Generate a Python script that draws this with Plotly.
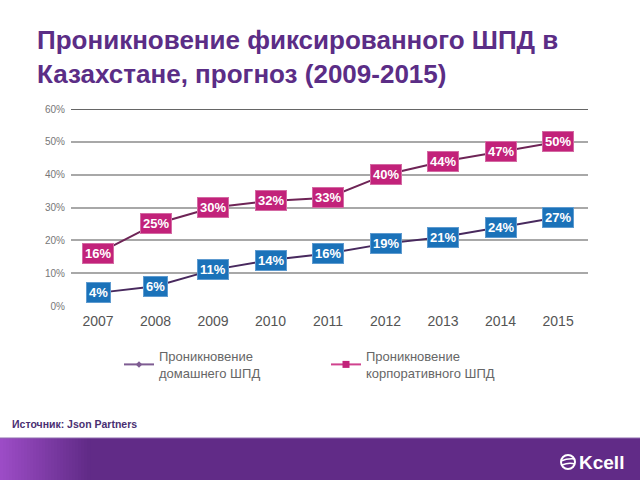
import plotly.graph_objects as go

years = [2007, 2008, 2009, 2010, 2011, 2012, 2013, 2014, 2015]
home = [4, 6, 11, 14, 16, 19, 21, 24, 27]
corp = [16, 25, 30, 32, 33, 40, 44, 47, 50]
y_ticks = [0, 10, 20, 30, 40, 50, 60]

title_text = "Проникновение фиксированного ШПД в<br>Казахстане, прогноз (2009-2015)"
name_home = "Проникновение<br>домашнего ШПД"
name_corp = "Проникновение<br>корпоративного ШПД"
source_text = "Источник: Json Partners"

W, H = 640, 480
L, R, T, B = 71, 52, 109, 174
pw, ph = W - L - R, H - T - B


def px(x):
    return (x - L) / pw


def py(y):
    return (H - B - y) / ph


PINK = "#C2227A"
BLUE = "#1B72B9"
FONT = "Liberation Sans, Arial, sans-serif"

fig = go.Figure()
fig.add_trace(go.Scatter(x=years, y=corp, mode="lines", line=dict(color="#6E2456", width=2),
                         showlegend=False, hoverinfo="skip"))
fig.add_trace(go.Scatter(x=years, y=home, mode="lines", line=dict(color="#48295E", width=2),
                         showlegend=False, hoverinfo="skip"))
# legend entries
fig.add_trace(go.Scatter(x=[None], y=[None], mode="lines+markers", name=name_home,
                         line=dict(color="#7E5C92", width=2),
                         marker=dict(symbol="diamond", size=5, color="#7E5C92")))
fig.add_trace(go.Scatter(x=[None], y=[None], mode="lines+markers", name=name_corp,
                         line=dict(color="#D0428E", width=2),
                         marker=dict(symbol="square", size=7, color="#C2227A")))

annotations = []
for yr, v in zip(years, corp):
    annotations.append(dict(x=yr, y=v, xref="x", yref="y", text=f"<b>{v}%</b>", showarrow=False,
                            font=dict(family=FONT, size=13, color="white"), bgcolor=PINK,
                            bordercolor="#D46AA3", borderwidth=1, borderpad=2))
for yr, v in zip(years, home):
    annotations.append(dict(x=yr, y=v, xref="x", yref="y", text=f"<b>{v}%</b>", showarrow=False,
                            font=dict(family=FONT, size=13, color="white"), bgcolor=BLUE,
                            bordercolor="#5E9BD0", borderwidth=1, borderpad=2))

annotations.append(dict(x=px(10), y=py(424), xref="paper", yref="paper", xanchor="left", yanchor="middle",
                        text="<b>" + source_text + "</b>", showarrow=False,
                        font=dict(family=FONT, size=10.5, color="#4A2F72")))
annotations.append(dict(x=px(577), y=py(462), xref="paper", yref="paper", xanchor="left", yanchor="middle",
                        text="<b>Kcell</b>", showarrow=False,
                        font=dict(family=FONT, size=19, color="white")))

shapes = []
# footer band
shapes.append(dict(type="rect", xref="paper", yref="paper", x0=px(0), x1=px(W), y0=py(H), y1=py(438),
                   fillcolor="#612B87", line=dict(width=0), layer="above"))
n = 30
c0 = (0x9C, 0x4C, 0xC6)
c1 = (0x61, 0x2B, 0x87)
for i in range(n):
    t = i / (n - 1)
    c = tuple(int(round(a + (b - a) * t)) for a, b in zip(c0, c1))
    shapes.append(dict(type="rect", xref="paper", yref="paper", x0=px(i * 3), x1=px(i * 3 + 3.5),
                       y0=py(H), y1=py(438), fillcolor="rgb(%d,%d,%d)" % c, line=dict(width=0), layer="above"))
shapes.append(dict(type="line", xref="paper", yref="paper", x0=px(0), x1=px(W), y0=py(438), y1=py(438),
                   line=dict(color="#8E6AAE", width=1), layer="above"))
# logo globe
shapes.append(dict(type="circle", xref="paper", yref="paper", x0=px(561), x1=px(575), y0=py(469), y1=py(455),
                   line=dict(color="white", width=2), layer="above"))
shapes.append(dict(type="path", xref="paper", yref="paper",
                   path=f"M {px(561)},{py(461)} Q {px(568)},{py(458)} {px(575)},{py(459)}",
                   line=dict(color="white", width=1.5), layer="above"))
shapes.append(dict(type="path", xref="paper", yref="paper",
                   path=f"M {px(562)},{py(465)} Q {px(569)},{py(462)} {px(575)},{py(464)}",
                   line=dict(color="white", width=1.5), layer="above"))
# darker top line at 60%
shapes.append(dict(type="line", xref="paper", yref="y", x0=0, x1=1, y0=60, y1=60,
                   line=dict(color="#333333", width=1.5), layer="below"))

fig.update_layout(
    width=W, height=H,
    margin=dict(l=L, r=R, t=T, b=B, pad=0, autoexpand=False),
    paper_bgcolor="white", plot_bgcolor="white",
    title=dict(text="<b>" + title_text + "</b>", x=37 / W, xanchor="left", xref="container",
               y=1 - 49 / H, yanchor="top", yref="container", pad=dict(l=0, r=0, t=0, b=0),
               font=dict(family=FONT, size=26, color="#5B2D86")),
    xaxis=dict(range=[2006.53, 2015.52], tickvals=years, ticktext=[str(y) for y in years],
               showgrid=False, zeroline=False, showline=False, ticks="outside", ticklen=2,
               tickcolor="rgba(0,0,0,0)",
               tickfont=dict(family=FONT, size=14, color="#555555"), fixedrange=True),
    yaxis=dict(range=[0, 60], tickvals=y_ticks, ticktext=[f"{v}%" for v in y_ticks],
               showgrid=True, gridcolor="#A8A8A8", gridwidth=1.5, zeroline=False, showline=False,
               ticks="outside", ticklen=3, tickcolor="rgba(0,0,0,0)",
               tickfont=dict(family=FONT, size=10, color="#777777"), fixedrange=True),
    legend=dict(orientation="h", x=px(119), y=py(341), xanchor="left", yanchor="top",
                entrywidth=162, entrywidthmode="pixels", itemwidth=30,
                font=dict(family=FONT, size=13, color="#666666"), bgcolor="rgba(0,0,0,0)"),
    annotations=annotations,
    shapes=shapes,
)

fig.write_html("out.html", config={"displayModeBar": False},
               post_script="document.body.style.margin='0';")
